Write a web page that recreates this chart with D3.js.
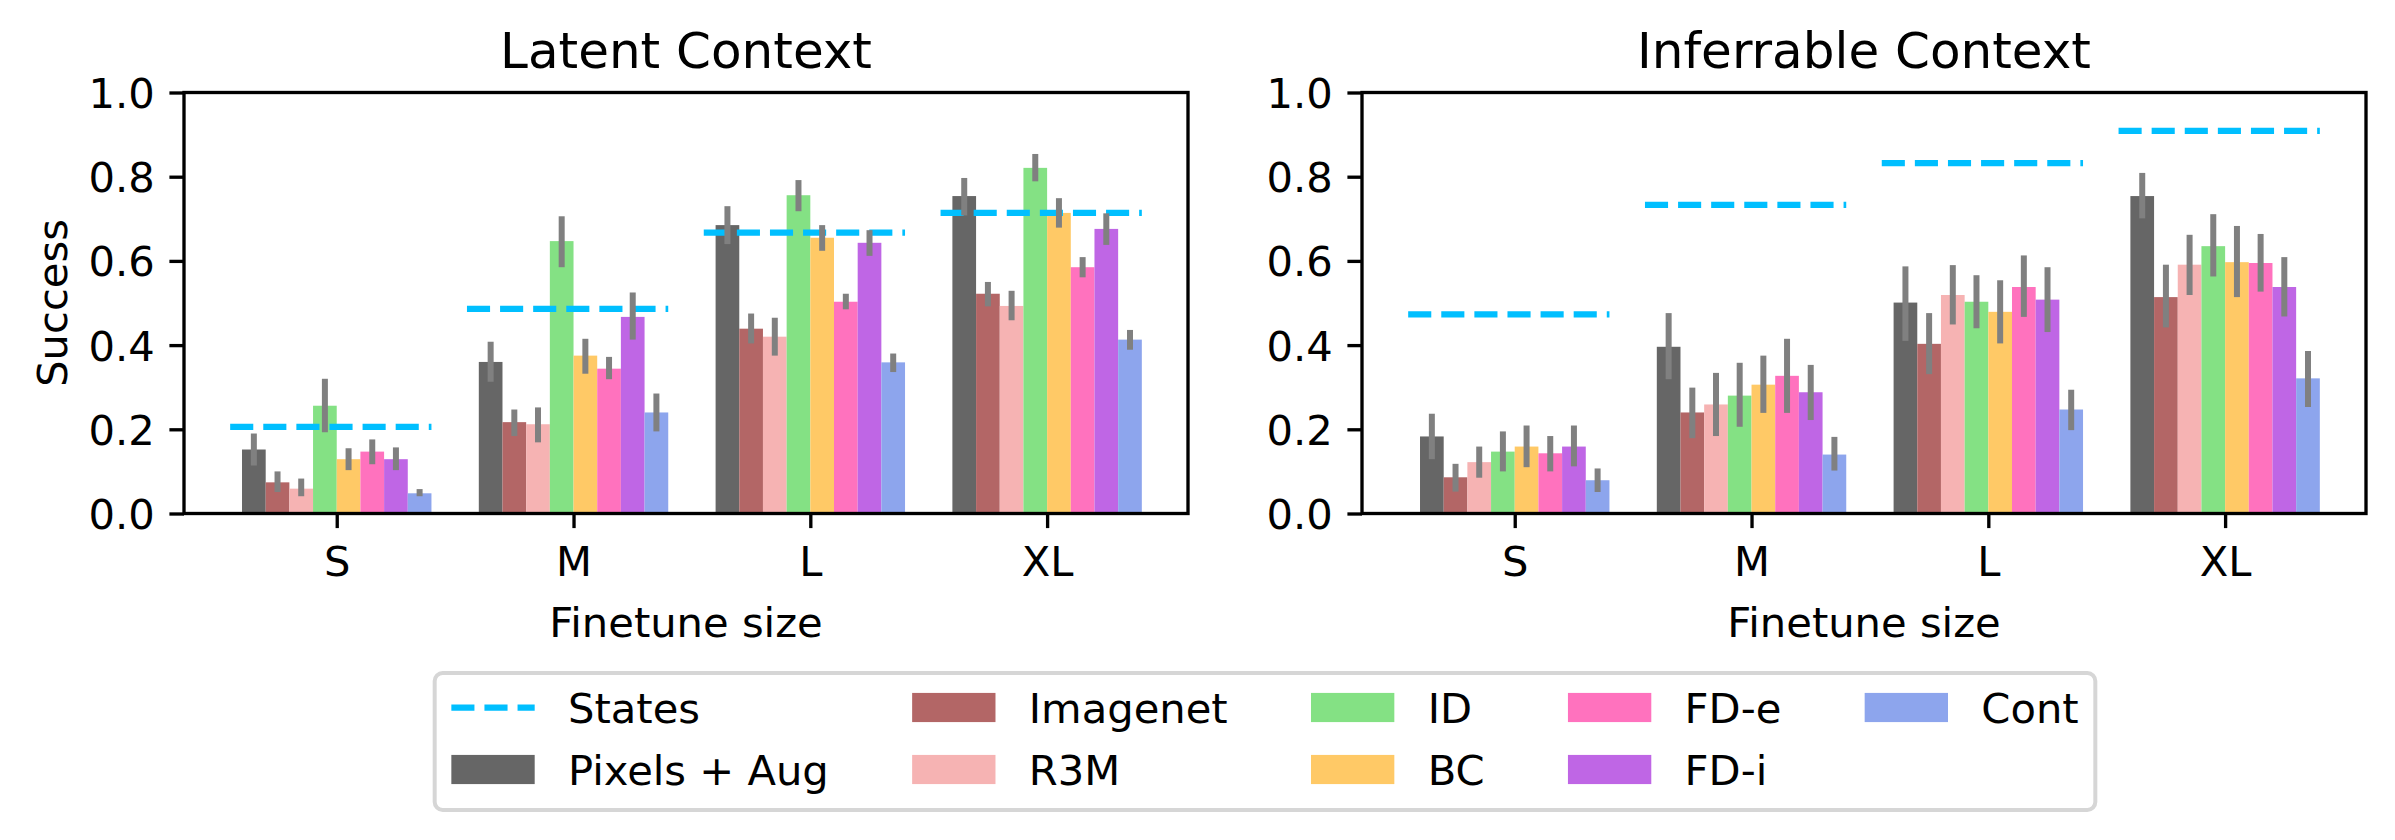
<!DOCTYPE html>
<html>
<head>
<meta charset="utf-8">
<script src="https://cdn.jsdelivr.net/npm/d3@7"></script>
<style>
  body { margin: 0; background: #fff; }
  svg { display: block; }
</style>
</head>
<body>
<script>
// Categories, series names and tick labels
var categories = ["S", "M", "L", "XL"];
var methods = ["Pixels + Aug", "Imagenet", "R3M", "ID", "BC", "FD-e", "FD-i", "Cont"];
var colors = ["#666666", "#b36666", "#f6b3b3", "#84e184", "#ffc966", "#ff72be", "#bf66e5", "#8da5ed"];
var statesColor = "#00bfff";
var yTicks = [0, 0.2, 0.4, 0.6, 0.8, 1.0];

// Latent Context: one row per method, one value per finetune size
var latentMean = [
  [0.152, 0.360, 0.685, 0.754],
  [0.074, 0.217, 0.439, 0.522],
  [0.059, 0.212, 0.420, 0.493],
  [0.256, 0.647, 0.756, 0.821],
  [0.129, 0.375, 0.655, 0.714],
  [0.147, 0.344, 0.503, 0.585],
  [0.129, 0.467, 0.643, 0.676],
  [0.048, 0.240, 0.359, 0.413]
];
var latentLo = [
  [0.114, 0.313, 0.640, 0.708],
  [0.051, 0.184, 0.404, 0.492],
  [0.041, 0.169, 0.375, 0.459],
  [0.193, 0.585, 0.718, 0.789],
  [0.103, 0.332, 0.624, 0.679],
  [0.117, 0.319, 0.485, 0.561],
  [0.103, 0.413, 0.612, 0.638],
  [0.041, 0.195, 0.336, 0.389]
];
var latentHi = [
  [0.190, 0.408, 0.730, 0.797],
  [0.100, 0.247, 0.475, 0.550],
  [0.083, 0.252, 0.465, 0.529],
  [0.320, 0.706, 0.792, 0.854],
  [0.155, 0.415, 0.685, 0.749],
  [0.176, 0.372, 0.522, 0.609],
  [0.157, 0.525, 0.673, 0.713],
  [0.058, 0.285, 0.380, 0.436]
];
var latentStates = [0.206, 0.486, 0.667, 0.714];

// Inferrable Context
var inferMean = [
  [0.183, 0.396, 0.501, 0.754],
  [0.086, 0.240, 0.403, 0.514],
  [0.122, 0.259, 0.519, 0.591],
  [0.147, 0.280, 0.503, 0.635],
  [0.159, 0.306, 0.479, 0.597],
  [0.143, 0.327, 0.538, 0.595],
  [0.159, 0.288, 0.508, 0.538],
  [0.079, 0.140, 0.247, 0.321]
];
var inferLo = [
  [0.129, 0.319, 0.410, 0.701],
  [0.052, 0.179, 0.331, 0.442],
  [0.085, 0.184, 0.449, 0.519],
  [0.100, 0.206, 0.440, 0.563],
  [0.110, 0.239, 0.404, 0.514],
  [0.100, 0.239, 0.467, 0.527],
  [0.112, 0.222, 0.431, 0.468],
  [0.051, 0.102, 0.198, 0.253]
];
var inferHi = [
  [0.237, 0.476, 0.587, 0.809],
  [0.118, 0.299, 0.476, 0.591],
  [0.159, 0.334, 0.590, 0.662],
  [0.195, 0.358, 0.566, 0.711],
  [0.209, 0.375, 0.554, 0.683],
  [0.184, 0.415, 0.613, 0.664],
  [0.209, 0.353, 0.585, 0.609],
  [0.107, 0.182, 0.294, 0.386]
];
var inferStates = [0.473, 0.733, 0.832, 0.909];

var width = 2395, height = 840;
var fs = 41.67;       // 10pt at 300 dpi
var lw = 3.33;        // spine / tick width
var barW = 0.1;       // bar width in category units
var font = "DejaVu Sans, sans-serif";

var svg = d3.select("body")
  .append("svg")
  .attr("width", width)
  .attr("height", height)
  .style("background", "#fff");

function drawPanel(left, title, mean, lo, hi, states, showYLabel) {
  var plotW = 1004, top = 92.5, bottom = 513.5;

  var x = d3.scaleLinear().domain([-0.645, 3.595]).range([left, left + plotW]);
  var y = d3.scaleLinear().domain([0, 1]).range([bottom, top]);
  var g = svg.append("g");

  // bars, one series at a time
  methods.forEach(function(m, k) {
    g.append("g").selectAll("rect")
      .data(mean[k])
      .enter().append("rect")
      .attr("x", function(d, i) { return x(i - 0.4 + barW * k); })
      .attr("y", function(d) { return y(d); })
      .attr("width", x(barW) - x(0))
      .attr("height", function(d) { return y(0) - y(d); })
      .attr("fill", colors[k]);
  });

  // states reference lines
  g.append("g").selectAll("line")
    .data(states)
    .enter().append("line")
    .attr("x1", function(d, i) { return x(i - 0.45); })
    .attr("x2", function(d, i) { return x(i + 0.4); })
    .attr("y1", function(d) { return y(d); })
    .attr("y2", function(d) { return y(d); })
    .attr("stroke", statesColor)
    .attr("stroke-width", 6.25)
    .attr("stroke-dasharray", "23.1,10");

  // error bars
  methods.forEach(function(m, k) {
    g.append("g").selectAll("line")
      .data(categories)
      .enter().append("line")
      .attr("x1", function(d, i) { return x(i - 0.4 + barW * (k + 0.5)); })
      .attr("x2", function(d, i) { return x(i - 0.4 + barW * (k + 0.5)); })
      .attr("y1", function(d, i) { return y(lo[k][i]); })
      .attr("y2", function(d, i) { return y(hi[k][i]); })
      .attr("stroke", "#808080")
      .attr("stroke-width", 6);
  });

  // y axis
  g.append("g")
    .attr("transform", "translate(" + left + ",0)")
    .call(d3.axisLeft(y).tickValues(yTicks).tickFormat(d3.format(".1f")).tickSize(14.6).tickPadding(14.6))
    .call(function(a) {
      a.attr("font-size", fs).attr("font-family", font);
      a.select(".domain").remove();
      a.selectAll(".tick line").attr("stroke-width", lw);
      a.selectAll(".tick text").attr("dy", "0.36em");
    });

  // x axis
  g.append("g")
    .attr("transform", "translate(0," + bottom + ")")
    .call(d3.axisBottom(x).tickValues([0, 1, 2, 3])
      .tickFormat(function(d) { return categories[d]; })
      .tickSize(14.6).tickPadding(18))
    .call(function(a) {
      a.attr("font-size", fs).attr("font-family", font);
      a.select(".domain").remove();
      a.selectAll(".tick line").attr("stroke-width", lw);
    });

  // frame
  g.append("rect")
    .attr("x", left)
    .attr("y", top)
    .attr("width", plotW)
    .attr("height", bottom - top)
    .attr("fill", "none")
    .attr("stroke", "#000")
    .attr("stroke-width", lw);

  // title and labels
  g.append("text")
    .attr("x", left + plotW / 2)
    .attr("y", 68)
    .attr("text-anchor", "middle")
    .attr("font-family", font)
    .attr("font-size", 50)
    .text(title);

  g.append("text")
    .attr("x", left + plotW / 2)
    .attr("y", 637)
    .attr("text-anchor", "middle")
    .attr("font-family", font)
    .attr("font-size", fs)
    .text("Finetune size");

  if (showYLabel) {
    g.append("text")
      .attr("transform", "translate(67," + (top + bottom) / 2 + ") rotate(-90)")
      .attr("text-anchor", "middle")
      .attr("font-family", font)
      .attr("font-size", fs)
      .text("Success");
  }
}

drawPanel(184, "Latent Context", latentMean, latentLo, latentHi, latentStates, true);
drawPanel(1362, "Inferrable Context", inferMean, inferLo, inferHi, inferStates, false);

// Legend: 5 columns filled column by column
var legendItems = [{ name: "States", color: statesColor, line: true }].concat(
  methods.map(function(m, k) { return { name: m, color: colors[k], line: false }; })
);
var handleW = 2.0 * fs, handleH = 0.7 * fs, handlePad = 0.8 * fs, colSpace = 2.0 * fs, borderPad = 0.4 * fs;
var legTop = 673, rowY = [legTop + 34.5, legTop + 96.5];
var nCols = 5;

var legend = svg.append("g");
var box = legend.append("rect");

// measure label widths to lay out columns
var measure = svg.append("text").attr("font-family", font).attr("font-size", fs);
var colWidths = [];
for (var c = 0; c < nCols; c++) {
  var w = 0;
  legendItems.slice(c * 2, c * 2 + 2).forEach(function(it) {
    measure.text(it.name);
    w = Math.max(w, measure.node().getComputedTextLength());
  });
  colWidths.push(w);
}
measure.remove();

var totalW = borderPad * 2 + d3.sum(colWidths) + nCols * (handleW + handlePad) + (nCols - 1) * colSpace;
var legLeft = 1265 - totalW / 2;
var colX = [];
var cx = legLeft + borderPad;
colWidths.forEach(function(w) { colX.push(cx); cx += handleW + handlePad + w + colSpace; });

legendItems.forEach(function(it, idx) {
  var col = Math.floor(idx / 2), row = idx % 2;
  var hx = colX[col], cy = rowY[row];
  if (it.line) {
    legend.append("line")
      .attr("x1", hx).attr("x2", hx + handleW)
      .attr("y1", cy).attr("y2", cy)
      .attr("stroke", it.color)
      .attr("stroke-width", 6.25)
      .attr("stroke-dasharray", "23.1,10");
  } else {
    legend.append("rect")
      .attr("x", hx).attr("y", cy - handleH / 2)
      .attr("width", handleW).attr("height", handleH)
      .attr("fill", it.color);
  }
  legend.append("text")
    .attr("x", hx + handleW + handlePad)
    .attr("y", cy + 15.5)
    .attr("font-family", font)
    .attr("font-size", fs)
    .text(it.name);
});

box.attr("x", legLeft)
  .attr("y", legTop)
  .attr("width", totalW)
  .attr("height", 137)
  .attr("rx", 8)
  .attr("fill", "#fff")
  .attr("stroke", "#d6d6d6")
  .attr("stroke-width", 4);
</script>
</body>
</html>
